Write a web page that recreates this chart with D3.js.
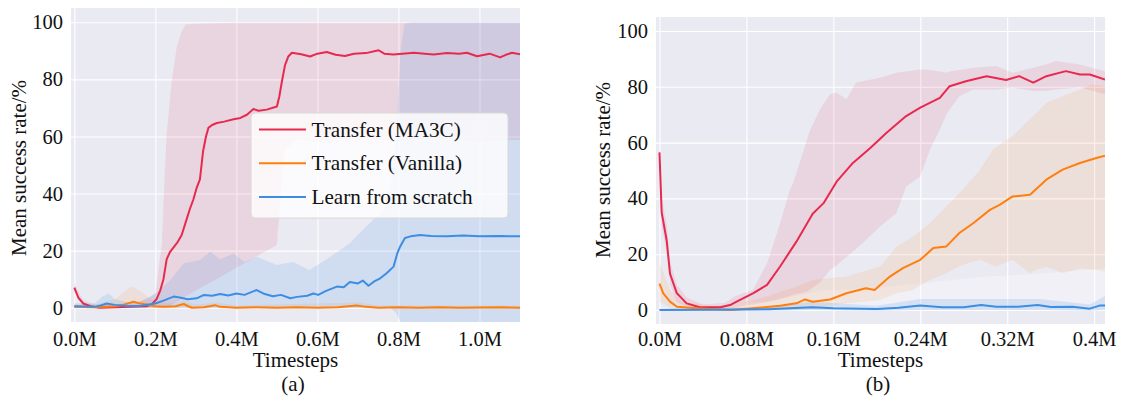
<!DOCTYPE html>
<html>
<head>
<meta charset="utf-8">
<script src="https://cdn.jsdelivr.net/npm/d3@7"></script>
<style>
  body { margin: 0; background: #fff; }
  svg, svg text { font-family: "Liberation Serif", "Times New Roman", serif !important; }
</style>
</head>
<body>
<svg id="chart"></svg>
<script>
// ---- data: [timestep (M), value] for means, [timestep, low, high] for bands ----
const seriesNames = ["Transfer (MA3C)", "Transfer (Vanilla)", "Learn from scratch"];

const yTicks = [0, 20, 40, 60, 80, 100];
const xTicksA = [0, 0.2, 0.4, 0.6, 0.8, 1.0];
const xTickLabelsA = ["0.0M", "0.2M", "0.4M", "0.6M", "0.8M", "1.0M"];
const xTicksB = [0, 0.08, 0.16, 0.24, 0.32, 0.4];
const xTickLabelsB = ["0.0M", "0.08M", "0.16M", "0.24M", "0.32M", "0.4M"];

// panel (a)
const ma3cMeanA = [[0,7],[0.01,3.5],[0.022,1.5],[0.04,0.5],[0.063,0],[0.1,0.2],[0.14,0.3],[0.178,0.5],[0.19,1],[0.203,3],[0.212,6],[0.22,10],[0.228,17],[0.236,19.5],[0.244,21],[0.255,23],[0.265,25.5],[0.275,30],[0.285,34.5],[0.294,38],[0.302,42],[0.31,45],[0.318,55],[0.325,60],[0.331,63],[0.34,64],[0.352,64.7],[0.37,65.2],[0.393,66],[0.41,66.5],[0.426,67.6],[0.442,69.6],[0.455,69],[0.475,69.4],[0.5,70.5],[0.506,74],[0.512,79],[0.52,85],[0.528,88],[0.537,89.3],[0.56,88.8],[0.582,88],[0.6,89],[0.623,89.6],[0.645,88.6],[0.668,88.2],[0.69,89],[0.72,89.2],[0.751,90.2],[0.765,89],[0.787,88.7],[0.81,89],[0.838,89.3],[0.865,89],[0.887,88.7],[0.92,89.2],[0.95,89],[0.969,89.3],[0.994,88.1],[1.025,89],[1.051,87.7],[1.065,88.6],[1.08,89.3],[1.1,88.8]];
const ma3cBandA = [[0,5.5,8.5],[0.02,0.5,3],[0.05,0,1.2],[0.1,0,1.2],[0.15,0,1.8],[0.18,0,3],[0.2,0,5],[0.208,0,14],[0.216,0,22],[0.221,0,40],[0.228,0,61],[0.24,1,79],[0.253,2,91.6],[0.265,3,96.8],[0.275,4,99.2],[0.3,6,99.5],[0.35,10,99.7],[0.4,14,99.8],[0.45,18,99.8],[0.5,22,99.8],[0.51,40,99.8],[0.52,55,99.8],[0.55,59,99.8],[0.6,58,99.8],[0.7,59,99.8],[0.8,58.5,99.8],[0.9,59,99.8],[1.0,58.5,99.8],[1.1,58.8,99.8]];

const vanillaMeanA = [[0,0.3],[0.05,0.2],[0.1,0.5],[0.12,1],[0.146,2.1],[0.16,1.6],[0.175,1.2],[0.2,0.5],[0.22,0.3],[0.25,0.5],[0.27,1.3],[0.28,0.6],[0.29,0],[0.32,0.2],[0.347,0.9],[0.36,0.3],[0.4,0],[0.45,0.2],[0.5,0],[0.55,0.2],[0.6,0],[0.65,0.2],[0.697,0.8],[0.72,0.3],[0.75,0],[0.8,0.2],[0.85,0],[0.9,0.2],[0.95,0],[1.0,0.1],[1.05,0.2],[1.1,0]];
const vanillaBandA = [[0,-0.3,1.5],[0.05,-0.3,1],[0.1,-0.2,3],[0.14,0,7.5],[0.16,0,6],[0.18,0,4],[0.2,-0.2,2],[0.25,-0.2,1.5],[0.27,0,2.5],[0.3,-0.3,1],[0.35,0,1.8],[0.4,-0.3,0.8],[0.7,0,1.8],[0.75,-0.3,0.8],[1.1,-0.3,0.8]];

const scratchMeanA = [[0,0.5],[0.03,0.4],[0.05,0.3],[0.065,0.8],[0.08,1.5],[0.1,1],[0.13,0.6],[0.16,0.6],[0.2,1.5],[0.22,2.5],[0.245,3.9],[0.26,3.6],[0.28,3],[0.302,3.3],[0.32,4.5],[0.34,4.2],[0.36,4.8],[0.38,4.3],[0.4,5],[0.42,4.5],[0.45,6.2],[0.47,4.8],[0.49,4],[0.51,4.5],[0.533,3.3],[0.55,3.8],[0.575,4.2],[0.59,5],[0.602,4.5],[0.62,5.8],[0.648,7.4],[0.665,7.2],[0.68,9],[0.7,8.5],[0.712,9.5],[0.726,7.7],[0.74,9.2],[0.755,10.3],[0.77,12],[0.788,14.4],[0.797,19],[0.804,21.4],[0.816,24.4],[0.83,25],[0.854,25.5],[0.88,25.1],[0.92,25],[0.96,25.3],[1.0,25],[1.05,25.1],[1.1,25]];
const scratchBandA = [[0,0,1.5],[0.05,0,1.5],[0.07,0,4],[0.085,0,5],[0.1,0,3],[0.13,0,2],[0.16,0,2],[0.2,0,5],[0.237,0,9.7],[0.27,0,15.6],[0.31,0,16.7],[0.335,0,19.6],[0.36,0,17],[0.393,0,19],[0.42,0,16],[0.45,0,17.9],[0.5,0,15],[0.54,0,16],[0.58,0,13.2],[0.62,0,16.7],[0.68,0,22.6],[0.72,0,28.4],[0.763,0,34.3],[0.78,0,42],[0.795,-2,60],[0.805,-5,90],[0.815,-6,99.5],[0.83,-6,99.9],[1.1,-6,99.9]];

// panel (b)
const ma3cMeanB = [[0,56.5],[0.002,35],[0.0066,25],[0.0097,13],[0.016,6],[0.025,2.4],[0.037,1],[0.056,1],[0.065,1.8],[0.071,3],[0.086,6],[0.099,9],[0.111,15.6],[0.126,24.5],[0.141,34.5],[0.151,38.3],[0.163,46],[0.178,52.7],[0.194,58.1],[0.209,63.5],[0.227,69.5],[0.24,72.5],[0.258,76],[0.267,80.2],[0.282,82],[0.301,83.8],[0.319,82.4],[0.331,83.8],[0.344,81.5],[0.356,83.8],[0.374,85.6],[0.387,84.4],[0.396,84.4],[0.41,82.6]];
const ma3cBandB = [[0,55,58],[0.002,30,40],[0.007,20,30],[0.01,9,17],[0.016,3,9],[0.025,1,4.5],[0.04,0,2],[0.06,0,2.5],[0.07,1,5],[0.086,2,7.2],[0.099,3,16.8],[0.111,4,31],[0.12,5,43],[0.123,5.5,45.5],[0.135,6.5,60],[0.138,7.2,64],[0.148,10,72],[0.157,14.4,77.3],[0.163,16,77.9],[0.172,19,75.5],[0.181,22,81.5],[0.187,24,82],[0.203,29.9,83.2],[0.218,34.7,85],[0.227,44.3,85.5],[0.24,47.9,86.2],[0.249,57.5,86],[0.258,64.7,85.5],[0.264,70,85],[0.267,71.9,85.5],[0.276,76.6,86],[0.289,79,86.8],[0.31,79,87.4],[0.325,79.7,85],[0.344,78.5,86.8],[0.356,78.6,88],[0.365,79,89.2],[0.387,79.7,88],[0.41,77.3,85.6]];

const vanillaMeanB = [[0,9.5],[0.0035,6],[0.0097,3],[0.016,1.2],[0.034,0.6],[0.065,0],[0.086,0.6],[0.111,1.5],[0.126,2.4],[0.134,3.8],[0.141,3],[0.157,3.8],[0.172,6],[0.19,7.8],[0.198,7.2],[0.212,12],[0.224,15],[0.24,18],[0.252,22.2],[0.264,22.8],[0.276,27.6],[0.289,31.2],[0.304,35.9],[0.313,37.7],[0.325,40.7],[0.341,41.3],[0.356,46.7],[0.371,50.3],[0.387,52.7],[0.402,54.5],[0.41,55.3]];
const vanillaBandB = [[0,3,17],[0.005,2,12],[0.01,0.5,7],[0.02,0,3],[0.05,-0.3,1.5],[0.08,0,3],[0.1,0,5],[0.126,0,8.4],[0.141,0.5,10.8],[0.172,2.4,12],[0.203,3.6,15.6],[0.218,6,22.7],[0.233,7.2,26.3],[0.249,10.8,31.2],[0.264,13.2,37.1],[0.279,16.2,43.1],[0.295,18,50.3],[0.307,16,57.5],[0.31,15.6,58.5],[0.325,18,62.3],[0.341,13.2,68.5],[0.344,14,69.5],[0.356,15.6,74.3],[0.371,13.2,76.6],[0.387,15,79],[0.399,14.5,80.9],[0.41,13.8,80.2]];

const scratchMeanB = [[0,0],[0.05,0.1],[0.1,0.3],[0.13,0.8],[0.141,1],[0.16,0.6],[0.2,0.4],[0.22,0.8],[0.24,1.6],[0.26,1],[0.28,1],[0.296,1.8],[0.31,1.2],[0.33,1.2],[0.348,1.8],[0.36,1.1],[0.38,1.2],[0.396,0.5],[0.405,1.6],[0.41,1.6]];
const scratchBandB = [[0,-0.3,0.5],[0.1,-0.3,1],[0.14,0,3],[0.2,-0.3,1.5],[0.24,0,4],[0.3,0,4],[0.35,0,4],[0.396,-0.3,2],[0.41,0,5]];
const scratchHaloB = [[0,0,1],[0.1,0,3],[0.15,0,7],[0.2,0,8],[0.25,0,10],[0.3,0,12],[0.35,0,13],[0.41,0,15]];

// ---- drawing ----
const width = 1123;
const height = 398;
const serif = '"Liberation Serif", "Times New Roman", serif';
const colors = ["#e8294f", "#ff7f0e", "#3b8ee3"];

const svg = d3.select("#chart")
  .attr("width", width).attr("height", height)
  .attr("font-family", serif);

function drawPanel(cfg) {
  const x = d3.scaleLinear().domain(cfg.xDomain).range([cfg.left, cfg.right]);
  const y = d3.scaleLinear().domain([-5, 105]).range([cfg.bottom, cfg.top]);

  const g = svg.append("g");
  const clipId = "clip-" + cfg.id;
  g.append("clipPath").attr("id", clipId)
    .append("rect")
    .attr("x", cfg.left).attr("y", cfg.top)
    .attr("width", cfg.right - cfg.left).attr("height", cfg.bottom - cfg.top);

  g.append("rect")
    .attr("x", cfg.left).attr("y", cfg.top)
    .attr("width", cfg.right - cfg.left).attr("height", cfg.bottom - cfg.top)
    .attr("fill", "#eaeaf2");

  // grid + tick labels
  const xAxis = g.append("g")
    .attr("transform", `translate(0,${cfg.bottom})`)
    .call(d3.axisBottom(x).tickValues(cfg.xTicks)
      .tickFormat((d, i) => cfg.xLabels[i])
      .tickSize(-(cfg.bottom - cfg.top)).tickPadding(cfg.xPad));
  const yAxis = g.append("g")
    .attr("transform", `translate(${cfg.left},0)`)
    .call(d3.axisLeft(y).tickValues(yTicks)
      .tickSize(-(cfg.right - cfg.left)).tickPadding(8));
  [xAxis, yAxis].forEach((a) => {
    a.attr("font-family", serif).attr("font-size", 20.5);
    a.select(".domain").remove();
    a.selectAll("line").attr("stroke", "#fff").attr("stroke-width", 1.1);
    a.selectAll("text").attr("fill", "#111").style("font-family", serif);
  });

  const plot = g.append("g").attr("clip-path", `url(#${clipId})`);
  const area = d3.area().x((d) => x(d[0])).y0((d) => y(d[1])).y1((d) => y(d[2]));
  const line = d3.line().x((d) => x(d[0])).y((d) => y(d[1]));

  if (cfg.halo) {
    plot.append("path").attr("d", area(cfg.halo)).attr("fill", "#ffffff").attr("opacity", 0.3);
  }
  cfg.series.forEach((s, i) => {
    plot.append("path").attr("d", area(s.band))
      .attr("fill", colors[i]).attr("opacity", i === 2 ? 0.15 : 0.11);
  });
  cfg.series.forEach((s, i) => {
    plot.append("path").attr("d", line(s.mean))
      .attr("fill", "none").attr("stroke", colors[i])
      .attr("stroke-width", 2).attr("stroke-linejoin", "round");
  });

  const mid = (cfg.left + cfg.right) / 2;
  g.append("text")
    .attr("transform", `translate(${cfg.ylabelX},${cfg.ylabelY}) rotate(-90)`)
    .attr("text-anchor", "middle").attr("dominant-baseline", "central")
    .attr("font-size", 21).attr("fill", "#111")
    .text("Mean success rate/%");
  g.append("text")
    .attr("x", mid).attr("y", 367)
    .attr("text-anchor", "middle").attr("font-size", 21).attr("fill", "#111")
    .text("Timesteps");
  g.append("text")
    .attr("x", cfg.captionX).attr("y", 391)
    .attr("text-anchor", "middle").attr("font-size", 21).attr("fill", "#111")
    .text(cfg.caption);

  return g;
}

const panelA = drawPanel({
  id: "a", left: 71, right: 520, top: 8, bottom: 322,
  xDomain: [-0.0082, 1.1], xTicks: xTicksA, xLabels: xTickLabelsA, xPad: 9,
  series: [
    { mean: ma3cMeanA, band: ma3cBandA },
    { mean: vanillaMeanA, band: vanillaBandA },
    { mean: scratchMeanA, band: scratchBandA },
  ],
  ylabelX: 19, ylabelY: 168, caption: "(a)", captionX: 293,
});

drawPanel({
  id: "b", left: 656, right: 1105, top: 17, bottom: 324,
  xDomain: [-0.0032, 0.41], xTicks: xTicksB, xLabels: xTickLabelsB, xPad: 7,
  series: [
    { mean: ma3cMeanB, band: ma3cBandB },
    { mean: vanillaMeanB, band: vanillaBandB },
    { mean: scratchMeanB, band: scratchBandB },
  ],
  halo: scratchHaloB,
  ylabelX: 603, ylabelY: 170, caption: "(b)", captionX: 878,
});

// legend in panel (a)
const legend = panelA.append("g");
legend.append("rect")
  .attr("x", 251).attr("y", 113).attr("width", 257).attr("height", 105)
  .attr("rx", 4).attr("fill", "#fff").attr("fill-opacity", 0.8)
  .attr("stroke", "#d8d8d8").attr("stroke-width", 1);
const items = legend.selectAll("g.item")
  .data(seriesNames)
  .enter()
  .append("g")
  .attr("class", "item")
  .attr("transform", (d, i) => `translate(0,${129.5 + i * 33.7})`);
items.append("line")
  .attr("x1", 259).attr("x2", 306).attr("y1", 0).attr("y2", 0)
  .attr("stroke", (d, i) => colors[i]).attr("stroke-width", 2);
items.append("text")
  .attr("x", 311.5).attr("y", 0).attr("dominant-baseline", "central")
  .attr("font-size", 21.2).attr("fill", "#111")
  .text((d) => d);
</script>
</body>
</html>
